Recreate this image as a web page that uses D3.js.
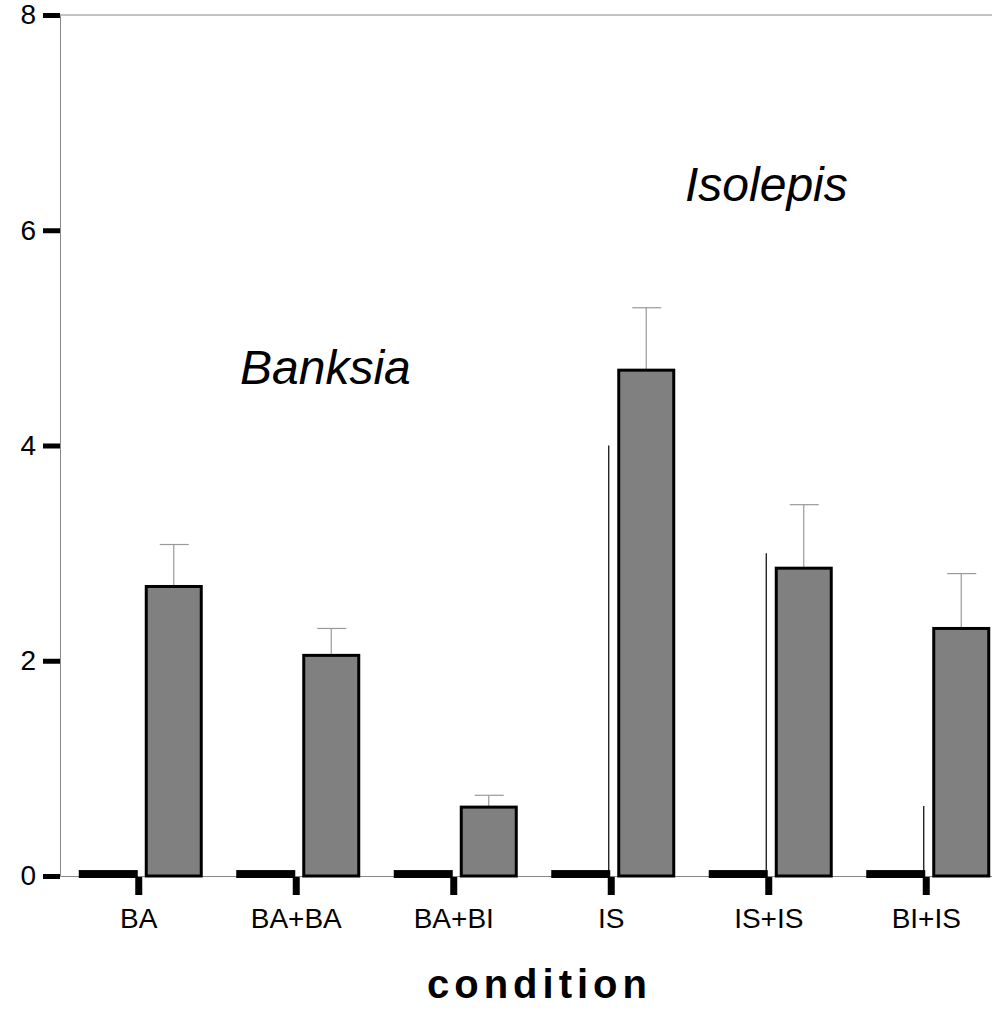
<!DOCTYPE html>
<html><head><meta charset="utf-8">
<script src="https://cdn.jsdelivr.net/npm/d3@7"></script>
<style>
body{margin:0;background:#fff}
svg{display:block}
text{font-family:"Liberation Sans",Arial,Helvetica,sans-serif}
</style>
</head><body>
<svg id="chart" width="992" height="1011"></svg>
<script>
// ---- data ----
const categories = ["BA","BA+BA","BA+BI","IS","IS+IS","BI+IS"];
const seriesA = [0.055,0.055,0.055,0.055,0.055,0.055];       // black (near-zero) bars
const seriesAErrTop = [0,0,0,4.0,3.0,0.65];                  // thin upper whisker of black bars
const seriesB = [2.69,2.05,0.64,4.70,2.86,2.30];             // grey bars
const seriesBErr = [0.39,0.25,0.11,0.58,0.59,0.51];          // grey bar error (SE)
const yTicks = [0,2,4,6,8];
const annotations = ["Banksia","Isolepis"];
const xTitle = "condition";

// ---- layout ----
const svg = d3.select("#chart");
const x = d3.scaleBand().domain(categories).range([60,1005]).padding(0);
const y = d3.scaleLinear().domain([0,8]).range([876,15]);
const cx = d => x(d) + x.bandwidth()/2;

// frame (top line)
svg.append("line").attr("x1",60).attr("x2",1005).attr("y1",y(8)).attr("y2",y(8))
  .attr("stroke","#888").attr("stroke-width",1);

// y axis
const yAxis = svg.append("g").attr("transform","translate(60,0)")
  .call(d3.axisLeft(y).tickValues(yTicks).tickSize(17).tickSizeOuter(0).tickPadding(7).tickFormat(d3.format("d")));
yAxis.select(".domain").attr("stroke","#888").attr("stroke-width",1);
yAxis.selectAll(".tick line").attr("stroke","#000").attr("stroke-width",5);
yAxis.selectAll(".tick text").attr("font-size",28).attr("fill","#000")
  .attr("font-family","'Liberation Sans',Arial,sans-serif");

// x axis
const xAxis = svg.append("g").attr("transform",`translate(0,${y(0)})`)
  .call(d3.axisBottom(x).tickSize(18).tickSizeOuter(0).tickPadding(14));
xAxis.select(".domain").attr("stroke","#888").attr("stroke-width",1);
xAxis.selectAll(".tick line").attr("stroke","#000").attr("stroke-width",7).attr("transform","translate(0,1)");
xAxis.selectAll(".tick text").attr("font-size",28).attr("fill","#000")
  .attr("font-family","'Liberation Sans',Arial,sans-serif");

const rows = categories.map((c,i)=>({c, a:seriesA[i], aTop:seriesAErrTop[i], b:seriesB[i], e:seriesBErr[i]}));

// black bars
svg.append("g").selectAll("rect").data(rows).join("rect")
  .attr("x", d=>cx(d.c)-60).attr("width",59)
  .attr("y", d=>y(d.a)).attr("height", d=>y(0)-y(d.a)+2)
  .attr("fill","#000");

// thin whiskers of black bars
svg.append("g").selectAll("line").data(rows.filter(d=>d.aTop>0)).join("line")
  .attr("x1", d=>cx(d.c)-2.5).attr("x2", d=>cx(d.c)-2.5)
  .attr("y1", y(0)).attr("y2", d=>y(d.aTop))
  .attr("stroke","#000").attr("stroke-width",1.2);

// grey bar error bars
const eg = svg.append("g").attr("stroke","#999").attr("stroke-width",1.2);
eg.selectAll("line.v").data(rows).join("line").attr("class","v")
  .attr("x1", d=>cx(d.c)+35).attr("x2", d=>cx(d.c)+35)
  .attr("y1", d=>y(d.b)).attr("y2", d=>y(d.b+d.e));
eg.selectAll("line.h").data(rows).join("line").attr("class","h")
  .attr("x1", d=>cx(d.c)+21).attr("x2", d=>cx(d.c)+50)
  .attr("y1", d=>y(d.b+d.e)).attr("y2", d=>y(d.b+d.e));

// grey bars
svg.append("g").selectAll("rect").data(rows).join("rect")
  .attr("x", d=>cx(d.c)+7.5).attr("width",55)
  .attr("y", d=>y(d.b)).attr("height", d=>y(0)-y(d.b))
  .attr("fill","#808080").attr("stroke","#000").attr("stroke-width",3);

// annotations
svg.append("text").attr("x",240).attr("y",384).attr("font-size",48).attr("font-style","italic")
  .attr("fill","#000").text(annotations[0]);
svg.append("text").attr("x",685).attr("y",201).attr("font-size",48).attr("font-style","italic")
  .attr("fill","#000").text(annotations[1]);

// x title
svg.append("text").attr("x",427).attr("y",998).attr("font-size",40).attr("font-weight","bold")
  .attr("letter-spacing","5px").attr("fill","#000").text(xTitle);
</script>
</body></html>
